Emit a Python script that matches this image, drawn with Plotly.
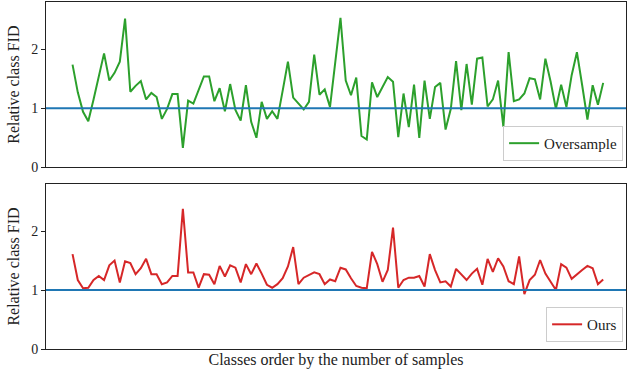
import plotly.graph_objects as go

oversample = [1.74, 1.27, 0.94, 0.78, 1.15, 1.55, 1.93, 1.47, 1.60, 1.79,
              2.52, 1.28, 1.38, 1.46, 1.15, 1.26, 1.19, 0.82, 0.99, 1.24,
              1.24, 0.33, 1.13, 1.08, 1.31, 1.54, 1.54, 1.12, 1.34, 0.95,
              1.41, 0.97, 0.79, 1.39, 0.77, 0.50, 1.11, 0.82, 0.95, 0.82,
              1.30, 1.79, 1.18, 1.08, 0.98, 1.11, 1.91, 1.23, 1.32, 1.02,
              1.79, 2.53, 1.47, 1.22, 1.52, 0.53, 0.47, 1.44, 1.19, 1.36,
              1.53, 1.45, 0.51, 1.25, 0.68, 1.40, 0.50, 1.47, 0.82, 1.36,
              1.43, 0.64, 0.99, 1.80, 0.97, 1.75, 1.06, 1.84, 1.86, 1.03,
              1.15, 1.47, 0.69, 1.95, 1.12, 1.15, 1.25, 1.51, 1.49, 1.15,
              1.84, 1.45, 0.99, 1.40, 1.02, 1.56, 1.95, 1.39, 0.81, 1.39,
              1.06, 1.43]

ours = [1.61, 1.17, 1.03, 1.04, 1.17, 1.24, 1.17, 1.42, 1.50, 1.13,
        1.49, 1.46, 1.27, 1.37, 1.53, 1.27, 1.27, 1.10, 1.13, 1.24,
        1.24, 2.38, 1.30, 1.30, 1.04, 1.27, 1.26, 1.10, 1.41, 1.23,
        1.42, 1.38, 1.13, 1.44, 1.27, 1.45, 1.28, 1.09, 1.04, 1.10,
        1.20, 1.40, 1.73, 1.10, 1.21, 1.26, 1.30, 1.27, 1.10, 1.18,
        1.15, 1.38, 1.35, 1.20, 1.07, 1.04, 1.03, 1.65, 1.44, 1.14,
        1.34, 2.06, 1.04, 1.17, 1.21, 1.21, 1.24, 1.06, 1.61, 1.34,
        1.13, 1.15, 1.06, 1.36, 1.27, 1.17, 1.28, 1.36, 1.09, 1.53,
        1.31, 1.54, 1.40, 1.15, 1.10, 1.57, 0.93, 1.17, 1.26, 1.51,
        1.28, 1.15, 1.00, 1.44, 1.38, 1.19, 1.27, 1.34, 1.41, 1.37,
        1.10, 1.18]

classes = list(range(len(oversample)))
y_ticks = [0, 1, 2]
y_tick_labels = ["0", "1", "2"]
reference_level = 1

FONT = "Liberation Serif"
INK = "#222"
fig = go.Figure()
fig.add_trace(go.Scatter(x=classes, y=oversample, mode="lines", name="Oversample",
                         line=dict(color="#2ca02c", width=2), xaxis="x", yaxis="y",
                         legend="legend", showlegend=True))
fig.add_trace(go.Scatter(x=classes, y=ours, mode="lines", name="Ours",
                         line=dict(color="#d62728", width=2), xaxis="x2", yaxis="y2",
                         legend="legend2", showlegend=True))

for yref in ["y", "y2"]:
    fig.add_shape(type="line", xref=("x domain" if yref == "y" else "x2 domain"), yref=yref,
                  x0=0, x1=1, y0=reference_level, y1=reference_level,
                  line=dict(color="#1f77b4", width=2), layer="above")

n = len(classes)
xr = [-0.05 * (n - 1), 1.043 * (n - 1)]
axis_common = dict(showline=True, mirror=True, linecolor=INK, linewidth=1,
                   showgrid=False, zeroline=False)
yaxis_common = dict(axis_common, range=[0, 2.8], tickvals=y_ticks, ticktext=y_tick_labels,
                    ticks="outside", ticklen=4, tickwidth=1, tickcolor=INK,
                    tickfont=dict(family=FONT, size=14, color=INK),
                    title=dict(text="Relative class FID", font=dict(family=FONT, size=16, color=INK),
                               standoff=7))
legend_common = dict(xanchor="right", yanchor="bottom",
                     bgcolor="rgba(255,255,255,0.8)", bordercolor="#cccccc", borderwidth=1,
                     font=dict(family=FONT, size=15, color=INK))

fig.update_layout(
    width=628, height=372,
    showlegend=True,
    margin=dict(l=46, r=2, t=2, b=23),
    plot_bgcolor="white", paper_bgcolor="white",
    font=dict(family=FONT, size=14, color=INK),
    xaxis=dict(axis_common, range=xr, showticklabels=False, ticks="", domain=[0, 1], anchor="y"),
    yaxis=dict(yaxis_common, domain=[0.5236, 1], anchor="x"),
    xaxis2=dict(axis_common, range=xr, showticklabels=False, ticks="", domain=[0, 1], anchor="y2",
                title=dict(text="Classes order by the number of samples",
                           font=dict(family=FONT, size=16, color=INK), standoff=4)),
    yaxis2=dict(yaxis_common, domain=[0, 0.4755], anchor="x2"),
    legend=dict(legend_common, x=0.995, y=0.542),
    legend2=dict(legend_common, x=0.995, y=0.02),
)

fig.write_html("out.html")
